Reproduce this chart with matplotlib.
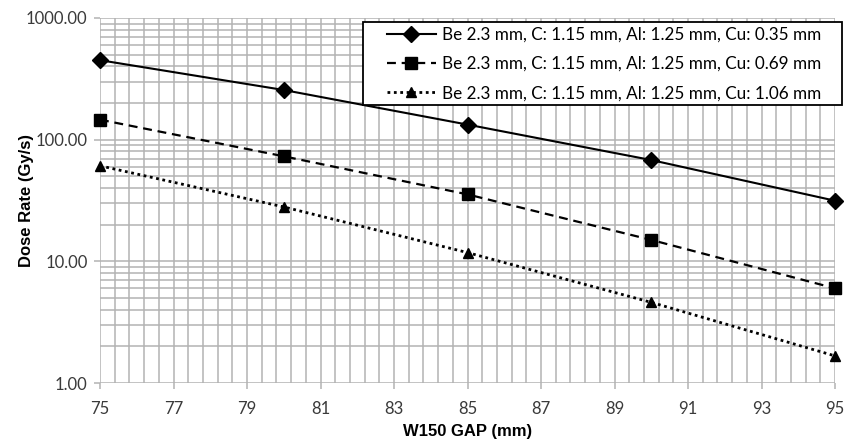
import matplotlib
matplotlib.use("Agg")
import matplotlib.pyplot as plt
from matplotlib.patches import Rectangle
from matplotlib.ticker import FixedLocator, LogLocator, NullFormatter, FuncFormatter

GAP_MM = [75, 80, 85, 90, 95]
DOSE_CU_035 = [450, 256, 133, 68, 31.5]
DOSE_CU_069 = [146, 73, 35.5, 15, 6.0]
DOSE_CU_106 = [61, 28, 11.8, 4.6, 1.67]
SERIES_LABELS = [
    "Be 2.3 mm, C: 1.15 mm, Al: 1.25 mm, Cu: 0.35 mm",
    "Be 2.3 mm, C: 1.15 mm, Al: 1.25 mm, Cu: 0.69 mm",
    "Be 2.3 mm, C: 1.15 mm, Al: 1.25 mm, Cu: 1.06 mm",
]
X_TICKS = [75, 77, 79, 81, 83, 85, 87, 89, 91, 93, 95]
Y_TICKS = [1, 10, 100, 1000]

GRID_COLOR = "#b3b3b3"
INK = "#000000"
TICK_INK = "#3a3a3a"
W, H = 845, 440

plt.rcParams["font.family"] = ["Lato", "DejaVu Sans"]

fig = plt.figure(figsize=(W / 100, H / 100), dpi=100)
ax = fig.add_axes([100 / W, 1 - 383 / H, 735 / W, 365 / H])

ax.set_yscale("log")
ax.set_xlim(75, 95)
ax.set_ylim(1, 1000)

styles = [
    ("-", "D", 8, 1.5),
    ((0, (4, 2.6)), "s", 8, 1.6),
    ((0, (1, 1.3)), "^", 7.5, 2.0),
]
series = [DOSE_CU_035, DOSE_CU_069, DOSE_CU_106]
for values, label, (ls, marker, ms, lw) in zip(series, SERIES_LABELS, styles):
    ax.plot(GAP_MM, values, linestyle=ls, marker=marker, markersize=ms,
            color=INK, linewidth=lw, label=label, clip_on=False, zorder=3)

ax.xaxis.set_major_locator(FixedLocator(X_TICKS))
ax.xaxis.set_minor_locator(FixedLocator([75 + 0.4 * i for i in range(51)]))
ax.yaxis.set_major_locator(FixedLocator(Y_TICKS))
ax.yaxis.set_minor_locator(LogLocator(base=10, subs=range(2, 10)))
ax.yaxis.set_major_formatter(FuncFormatter(lambda v, _: f"{v:.2f}"))
ax.yaxis.set_minor_formatter(NullFormatter())

ax.grid(True, which="both", color=GRID_COLOR, linewidth=1.1)
ax.set_axisbelow(True)
for side in ["top", "right", "left", "bottom"]:
    ax.spines[side].set_visible(False)

ax.tick_params(axis="both", which="major", length=4, color=GRID_COLOR,
               labelsize=12, labelcolor=TICK_INK, width=1.1)
ax.tick_params(axis="both", which="minor", length=0)
ax.tick_params(axis="x", pad=9)
ax.tick_params(axis="y", pad=5)

ax.set_xlabel("W150 GAP (mm)", fontsize=12, fontweight="bold",
              family="Liberation Sans")
ax.set_ylabel("Dose Rate (Gy/s)", fontsize=12, fontweight="bold",
              family="Liberation Sans")
ax.xaxis.set_label_coords(0.5, (383 - 424) / 365)
ax.yaxis.set_label_coords((34 - 100) / 735, 0.5)

# legend box drawn separately: Excel pads it far more on the sides than on top/bottom
box = Rectangle((363 / W, 1 - 105 / H), 479 / W, 83 / H, transform=fig.transFigure,
                facecolor="white", edgecolor=INK, linewidth=1.3, zorder=4)
fig.add_artist(box)
leg = fig.legend(loc="center", bbox_to_anchor=(604 / W, 1 - 64 / H),
                 frameon=False, fontsize=12.3, handlelength=2.9,
                 borderpad=0, labelspacing=0.78, handletextpad=0.35,
                 borderaxespad=0)
leg.set_zorder(5)

fig.savefig("out.png", dpi=100)
